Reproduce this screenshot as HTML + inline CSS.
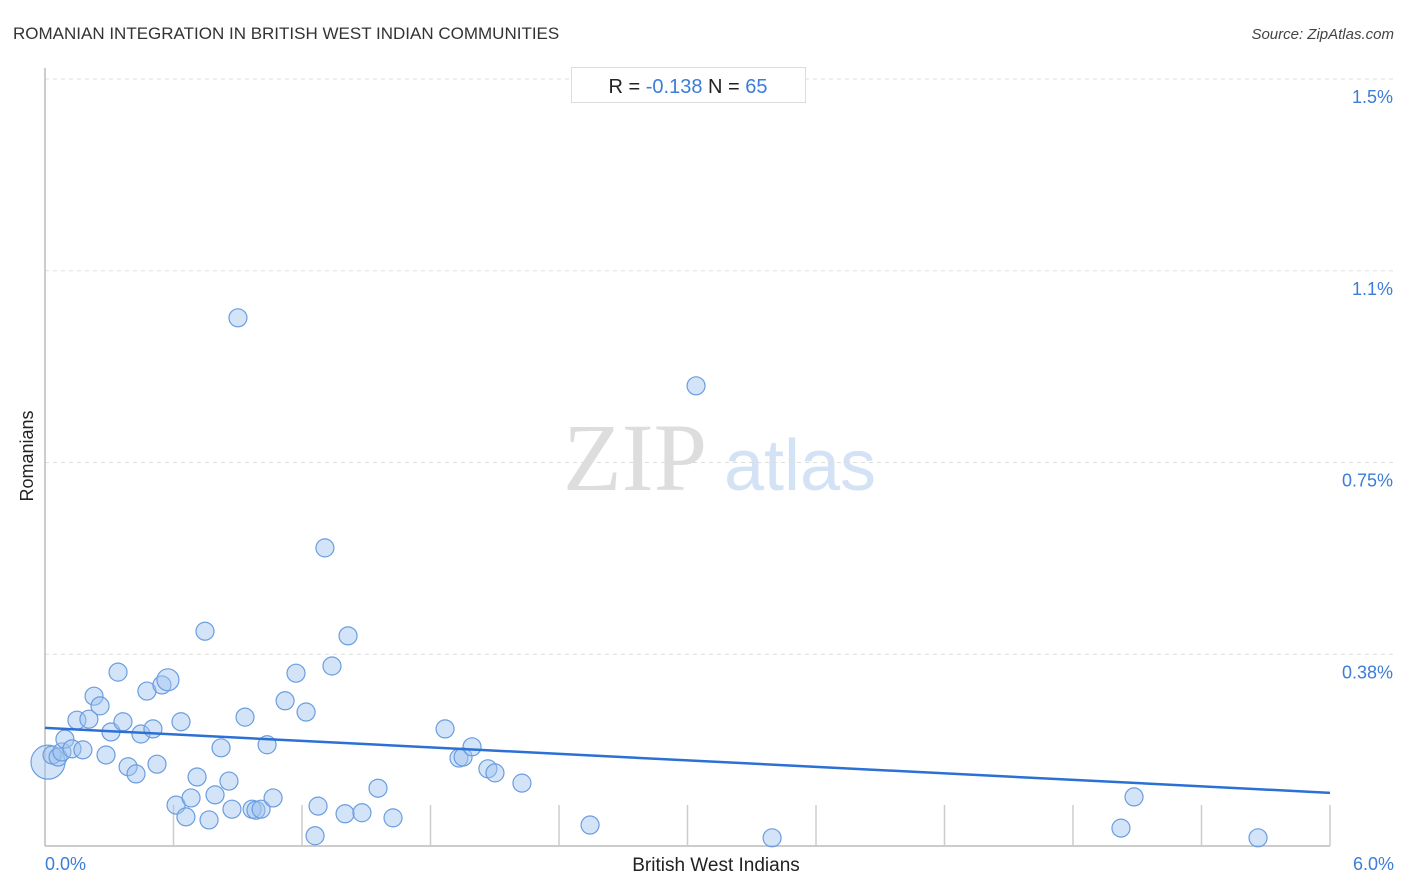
<!DOCTYPE html>
<html><head><meta charset="utf-8"><style>
html,body{margin:0;padding:0;background:#fff;width:1406px;height:892px;overflow:hidden;font-family:"Liberation Sans",sans-serif}
</style></head><body>
<svg id="chart" width="1406" height="892" xmlns="http://www.w3.org/2000/svg">
<text x="13" y="39" font-size="17" fill="#333">ROMANIAN INTEGRATION IN BRITISH WEST INDIAN COMMUNITIES</text>
<text x="1394" y="39" font-size="15" fill="#444" font-style="italic" text-anchor="end">Source: ZipAtlas.com</text>
<g>
<text x="635" y="490" font-size="96" fill="#ddd" font-family="Liberation Serif,serif" text-anchor="middle">ZIP</text>
<text x="800" y="490" font-size="72" fill="#d3e2f5" text-anchor="middle">atlas</text>
</g>
<g id="grid"></g>
<g id="axes"></g>
<g id="points"></g>
<g id="trend"></g>
<g>
<rect x="571.5" y="67.5" width="234" height="35" fill="#fff" stroke="#ddd"/>
<text x="688" y="93" font-size="20" text-anchor="middle"><tspan fill="#222">R = </tspan><tspan fill="#3b7dd8">-0.138</tspan><tspan fill="#222">    N = </tspan><tspan fill="#3b7dd8">65</tspan></text>
</g>
<text x="716" y="871" font-size="19" fill="#222" text-anchor="middle">British West Indians</text>
<text x="33" y="456" font-size="18" fill="#222" text-anchor="middle" transform="rotate(-90 33 456)">Romanians</text>
</svg>
<script>
const xs=[0.014,0.033,0.061,0.079,0.093,0.126,0.177,0.149,0.205,0.229,0.257,0.285,0.308,0.341,0.364,0.388,0.425,0.448,0.476,0.504,0.523,0.546,0.574,0.612,0.635,0.658,0.682,0.710,0.747,0.766,0.794,0.822,0.859,0.873,0.901,0.934,0.967,0.985,1.009,1.037,1.065,1.121,1.172,1.219,1.261,1.275,1.307,1.340,1.401,1.415,1.480,1.555,1.625,1.868,1.933,1.952,1.994,2.068,2.101,2.227,2.545,3.040,3.395,5.024,5.085,5.664];
const ys=[0.164,0.178,0.174,0.184,0.209,0.190,0.188,0.246,0.248,0.293,0.274,0.178,0.223,0.340,0.243,0.155,0.141,0.219,0.303,0.229,0.160,0.315,0.325,0.080,0.243,0.057,0.094,0.135,0.420,0.051,0.100,0.192,0.127,0.072,1.033,0.252,0.072,0.070,0.072,0.198,0.094,0.284,0.338,0.262,0.020,0.078,0.583,0.352,0.063,0.411,0.065,0.113,0.055,0.229,0.172,0.174,0.194,0.151,0.143,0.123,0.041,0.900,0.016,0.035,0.096,0.016];
const sizes=[17,9,9,9,9,9,9,9,9,9,9,9,9,9,9,9,9,9,9,9,9,9,11,9,9,9,9,9,9,9,9,9,9,9,9,9,9,9,9,9,9,9,9,9,9,9,9,9,9,9,9,9,9,9,9,9,9,9,9,9,9,9,9,9,9,9];
const yTicks=[1.5,1.125,0.75,0.375];
const yTickLabels=["1.5%","1.1%","0.75%","0.38%"];
const xTickLabels=["0.0%","6.0%"];
const trend=[0.231,0.104];
const X0=45,X1=1330,Y0=846,Y1=79;
const sx=v=>X0+(v/6)*(X1-X0);
const sy=v=>Y0-(v/1.5)*(Y0-Y1);
const NS="http://www.w3.org/2000/svg";
function mk(t,a,p){const e=document.createElementNS(NS,t);for(const k in a)e.setAttribute(k,a[k]);p.appendChild(e);return e;}
const grid=document.getElementById('grid'),axes=document.getElementById('axes');
yTicks.forEach((t,i)=>{
 const l=mk('line',{x1:X0,x2:1395,y1:sy(t),y2:sy(t),stroke:'#ddd','stroke-dasharray':'4,4'},grid);
 
 
 const tx=mk('text',{x:1393,y:sy(t)+24,'font-size':18,fill:'#3b7dd8','text-anchor':'end'},grid);
 tx.textContent=yTickLabels[i];
 
 
});
const ax=mk('line',{x1:X0,x2:X0,y1:68,y2:Y0,stroke:'#bbb','stroke-width':1.5},axes);


const bx=mk('line',{x1:X0,x2:X1,y1:Y0,y2:Y0,stroke:'#bbb','stroke-width':1.5},axes);


for(let i=1;i<=10;i++){
 const t=mk('line',{x1:sx(i*0.6),x2:sx(i*0.6),y1:Y0-41,y2:Y0,stroke:'#ccc','stroke-width':1.5},axes);
 
 
}
[[0,'start',X0],[6,'end',1394]].forEach((d,i)=>{
 const t=mk('text',{x:d[2],y:870,'font-size':18,fill:'#3b7dd8','text-anchor':d[1]},axes);
 t.textContent=xTickLabels[i];
 
 
});
const pg=document.getElementById('points');
xs.forEach((x,i)=>{
 const c=mk('circle',{cx:sx(x),cy:sy(ys[i]),r:sizes[i],fill:'rgba(160,195,240,0.45)',stroke:'#6a9de0','stroke-width':1.2},pg);
 
 
});
const tl=mk('line',{x1:sx(0),y1:sy(trend[0]),x2:sx(6),y2:sy(trend[1]),stroke:'#2b70d4','stroke-width':2.5},document.getElementById('trend'));


</script>
</body></html>
